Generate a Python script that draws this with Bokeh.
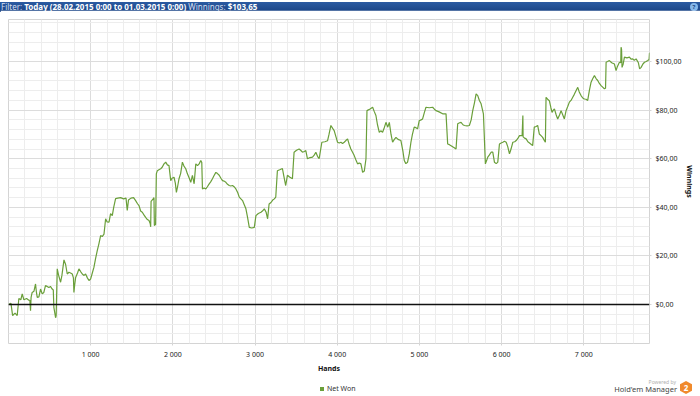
from bokeh.plotting import figure
from bokeh.models import Range1d, FixedTicker, Span, Div
from bokeh.layouts import column
from bokeh.embed import file_html
from bokeh.resources import INLINE

# ---- data ----
hands = [0, 30, 50, 80, 106, 126, 150, 167, 187, 220, 248, 260, 268, 275, 288, 310, 329, 340, 350, 370,
         390, 410, 430, 450, 470, 492, 510, 532, 545, 552, 573, 580, 593, 610, 634, 650, 675, 695, 715, 735,
         755, 776, 790, 796, 805, 817, 840, 857, 880, 898, 920, 938, 960, 979, 999, 1020, 1040, 1060, 1080, 1100,
         1121, 1140, 1162, 1182, 1200, 1223, 1242, 1263, 1280, 1303, 1330, 1364, 1400, 1430, 1445, 1460, 1490, 1522, 1547, 1570,
         1588, 1608, 1628, 1650, 1669, 1690, 1710, 1725, 1730, 1735, 1760, 1770, 1775, 1790, 1799, 1811, 1830, 1852, 1870, 1892,
         1913, 1933, 1953, 1974, 1990, 2014, 2030, 2043, 2060, 2075, 2095, 2116, 2135, 2157, 2177, 2200, 2218, 2238, 2259, 2279,
         2300, 2320, 2340, 2352, 2360, 2380, 2401, 2420, 2442, 2460, 2482, 2500, 2523, 2540, 2564, 2585, 2604, 2625, 2645, 2665,
         2686, 2705, 2726, 2745, 2767, 2790, 2808, 2828, 2848, 2870, 2889, 2909, 2930, 2960, 2991, 3011, 3040, 3072, 3090, 3113,
         3135, 3153, 3171, 3194, 3215, 3235, 3252, 3272, 3300, 3333, 3350, 3373, 3394, 3420, 3455, 3475, 3505, 3536, 3555, 3577,
         3600, 3618, 3638, 3670, 3699, 3720, 3740, 3760, 3780, 3813, 3850, 3882, 3900, 3923, 3945, 3963, 3985, 4004, 4025, 4045,
         4065, 4085, 4105, 4126, 4145, 4166, 4190, 4207, 4228, 4248, 4268, 4288, 4300, 4309, 4330, 4350, 4362, 4400, 4431, 4450,
         4471, 4490, 4512, 4530, 4552, 4575, 4593, 4615, 4634, 4655, 4674, 4695, 4715, 4740, 4775, 4800, 4816, 4835, 4856, 4877,
         4897, 4915, 4937, 4958, 4978, 4998, 5020, 5039, 5060, 5080, 5120, 5161, 5180, 5202, 5240, 5283, 5324, 5344, 5365, 5385,
         5415, 5446, 5466, 5490, 5507, 5530, 5548, 5580, 5608, 5630, 5649, 5670, 5690, 5710, 5730, 5751, 5779, 5803, 5820, 5832,
         5850, 5873, 5893, 5913, 5935, 5954, 5974, 5995, 6015, 6035, 6056, 6075, 6096, 6115, 6137, 6160, 6178, 6200, 6218, 6250,
         6259, 6262, 6280, 6299, 6320, 6340, 6378, 6398, 6420, 6439, 6459, 6480, 6500, 6520, 6533, 6541, 6560, 6581, 6600, 6614,
         6630, 6643, 6665, 6683, 6705, 6724, 6745, 6764, 6785, 6805, 6825, 6845, 6866, 6885, 6906, 6927, 6945, 6967, 6988, 7008,
         7028, 7048, 7068, 7089, 7110, 7130, 7150, 7170, 7190, 7211, 7230, 7251, 7265, 7272, 7290, 7312, 7340, 7373, 7393, 7410,
         7434, 7450, 7454, 7460, 7466, 7480, 7495, 7525, 7556, 7575, 7596, 7615, 7637, 7665, 7680, 7698, 7720, 7739, 7760, 7779,
         7795, 7800]
net_won = [0, 0.5, -4.5, -3.5, -4.5, 2.5, 2, 4.4, 2, 2.5, 1.8, 1.8, -2.5, 3, 5, 5.5, 8.5, 5, 3, 3.2,
           6.4, 4.4, 5, 7.8, 7.5, 7, 7.5, 6.4, 6, -1.1, -5.4, -4.5, 14.7, 12, 9.2, 12, 18.4, 16.5, 12.6, 13.3,
           13, 12.6, 11, 5, 8, 11.2, 13, 14.7, 13.5, 12.6, 12, 12.6, 11, 9.9, 10.5, 13, 15.4, 19, 22.2, 25,
           28.4, 28, 29, 35.3, 34, 33.9, 37.4, 36.6, 40, 43.6, 43.8, 44, 43.5, 43.8, 38.7, 43, 43.8, 44, 42.8, 41.5,
           40.7, 38.5, 38, 36.8, 35.9, 35, 34.6, 33.2, 32, 42.5, 43.5, 44, 32.5, 33, 53.8, 55.1, 55.5, 55.9, 56.5, 57.9,
           58.6, 57.5, 57.2, 51, 52, 52.4, 50, 46.2, 49, 51.8, 54, 58.6, 57, 55.9, 53.8, 52, 50.3, 53.2, 49.7, 57.9,
           57.2, 57.9, 59.3, 58.5, 47.6, 48, 47.6, 48.5, 49.7, 50.5, 51.8, 53, 54.4, 54, 53.2, 52, 51, 50.8, 50.3, 49.5,
           49, 48.8, 49, 48.5, 47.6, 46, 44.2, 43.5, 42.8, 41, 39.4, 35.9, 31.8, 31.5, 31.8, 36.6, 37.5, 38, 38.5, 39.4,
           38, 35.3, 41.4, 42, 43, 43.5, 44.2, 55.1, 55.5, 56, 53, 49, 53.2, 52.5, 51.8, 62.7, 63.5, 64, 63.5, 62.7,
           63, 63.4, 60, 60.5, 60.7, 61.5, 62.7, 61, 60, 66.8, 67, 67.4, 70, 73.7, 72.5, 71.6, 69, 66.8, 66.5, 66.8,
           66.3, 66.8, 67.5, 68.2, 66, 64, 62.5, 61.3, 59.5, 57.9, 58.3, 57.9, 56, 54.4, 55, 60, 79.8, 80.5, 81.2, 79.5,
           77.8, 74, 70.9, 71.5, 70.9, 73, 75, 73, 75, 70, 66.8, 68, 68.8, 68, 67.5, 63, 59.3, 58, 58.6, 62,
           66.8, 70, 73, 72.8, 72.3, 75.7, 76, 76.4, 79, 81.2, 81, 81.2, 80.5, 79.8, 79.3, 78.5, 78.5, 66.1, 65.8, 65.4,
           64.7, 64, 74.4, 74.8, 75, 74, 73.7, 73.5, 73.7, 76, 79.8, 83, 86.7, 86, 84, 82.6, 78.5, 57.9, 59.5, 60.7,
           61.5, 62.7, 62.7, 58.6, 58, 58.6, 66.1, 66.5, 66.8, 67.2, 66.8, 65, 62, 64, 66.8, 67, 67.5, 68.5, 69.5, 69.5,
           77.8, 69, 68.5, 68.2, 67, 66.5, 65.4, 73, 73.3, 73.7, 70.2, 69.5, 68.8, 67.5, 66.8, 85.3, 84.5, 83.9, 81, 79.1,
           80, 80.5, 78, 76.4, 78, 79.8, 78, 76.4, 79.8, 81.5, 83.3, 84, 85.3, 86.5, 88, 89.4, 87.5, 86, 85, 84.6,
           84.5, 84, 88, 91.5, 93, 94.2, 93, 92.2, 91, 90.1, 89.5, 88.8, 89, 99.7, 100, 100.4, 99.5, 99, 96.3, 98,
           99.7, 99.5, 105.9, 105, 97.6, 99, 101.8, 101.5, 101.8, 101, 101.1, 100.5, 101.1, 99.5, 97, 97.6, 99, 99.7, 100, 100.4,
           100.8, 103.65]

x_ticks = [1000, 2000, 3000, 4000, 5000, 6000, 7000]
x_tick_labels = ["1 000", "2 000", "3 000", "4 000", "5 000", "6 000", "7 000"]
x_minor_ticks = list(range(200, 7800, 200))
y_ticks = [0, 20, 40, 60, 80, 100]
y_tick_labels = ["$0,00", "$20,00", "$40,00", "$60,00", "$80,00", "$100,00"]
y_minor_ticks = list(range(-16, 118, 4))

FONT = "Noto Sans"
GREEN = "#6a9f3a"

p = figure(width=700, height=366, x_range=Range1d(0, 7800), y_range=Range1d(-16, 117.3),
           y_axis_location="right", output_backend="svg", toolbar_location=None,
           min_border_left=8, min_border_right=51, min_border_top=9, min_border_bottom=33,
           background_fill_color="white", border_fill_color="white",
           outline_line_color="#d4d4d4", outline_line_width=1)

p.xaxis.ticker = FixedTicker(ticks=x_ticks, minor_ticks=x_minor_ticks)
p.yaxis.ticker = FixedTicker(ticks=y_ticks, minor_ticks=y_minor_ticks)
p.xaxis.major_label_overrides = {t: l for t, l in zip(x_ticks, x_tick_labels)}
p.yaxis.major_label_overrides = {t: l for t, l in zip(y_ticks, y_tick_labels)}

for ax in (p.xaxis, p.yaxis):
    ax.axis_line_color = None
    ax.major_tick_line_color = "#d4d4d4"
    ax.major_tick_out = 2
    ax.major_tick_in = 0
    ax.minor_tick_line_color = None
    ax.major_label_text_font = FONT
    ax.major_label_text_font_size = "7px"
    ax.major_label_text_color = "#222222"
    ax.major_label_standoff = 2
    ax.axis_label_text_font = FONT
    ax.axis_label_text_font_size = "7px"
    ax.axis_label_text_font_style = "bold"
    ax.axis_label_text_color = "#111111"

p.xaxis.axis_label = "Hands"
p.xaxis.axis_label_standoff = 2
p.yaxis.axis_label = "Winnings"
p.yaxis.axis_label_standoff = 1

p.xgrid.grid_line_color = "#dcdcdc"
p.ygrid.grid_line_color = "#dcdcdc"
p.xgrid.minor_grid_line_color = "#ededed"
p.ygrid.minor_grid_line_color = "#ededed"

p.add_layout(Span(location=0, dimension="width", line_color="#111111", line_width=1.5))
p.line(hands, net_won, line_color=GREEN, line_width=1.2)

header = Div(width=700, height=10, margin=(0, 0, 0, 0), text=(
    '<div style="position:relative;width:700px;height:10px;overflow:hidden;'
    'background:linear-gradient(#2b5ba2,#1a4384);color:#ffffff;font-family:\'Noto Sans\';'
    'font-size:8px;line-height:10px;white-space:nowrap;">'
    '<span style="padding-left:1px;color:#d3ddef">Filter:</span> '
    '<b>Today (28.02.2015 0:00 to 01.03.2015 0:00)</b> '
    '<span style="color:#d3ddef">Winnings:</span> <b>$103,65</b>'
    '<span style="position:absolute;right:2px;top:1px;width:8px;height:8px;border-radius:50%;'
    'background:#86b8ea;color:#1a4384;font-size:6px;line-height:8px;text-align:center;'
    'font-weight:bold">?</span></div>'))

footer = Div(width=700, height=20, margin=(0, 0, 0, 0), text=(
    '<div style="position:relative;width:700px;height:20px;font-family:\'Noto Sans\';white-space:nowrap;">'
    '<span style="position:absolute;left:320px;top:11px;width:4px;height:4px;background:' + GREEN + '"></span>'
    '<span style="position:absolute;left:327px;top:8px;font-size:7px;line-height:9px;color:#333333">Net Won</span>'
    '<span style="position:absolute;right:24px;top:3px;font-size:5px;line-height:6px;color:#b0b0b0">Powered by</span>'
    '<span style="position:absolute;right:23px;top:9px;font-size:7.5px;line-height:9px;color:#444444">Hold\'em Manager</span>'
    '<span style="position:absolute;right:8px;top:5px;width:12px;height:13px;background:#f08a2c;'
    'clip-path:polygon(50% 0,100% 25%,100% 75%,50% 100%,0 75%,0 25%);color:#ffffff;font-size:8px;'
    'font-weight:bold;line-height:13px;text-align:center">2</span></div>'))

layout = column(header, p, footer, spacing=0)
open("out.html", "w").write(file_html(layout, INLINE))
